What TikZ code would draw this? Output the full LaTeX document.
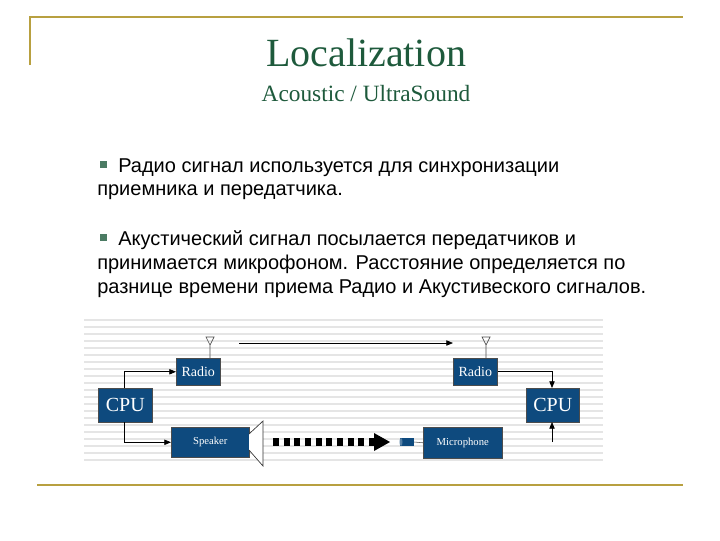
\documentclass[tikz,border=0pt]{standalone}
\usepackage{fontspec}
\setmainfont{Liberation Serif}
\newfontfamily\sans{Liberation Sans}
\definecolor{gold}{HTML}{B8A040}
\definecolor{tgreen}{HTML}{1E5A3C}
\definecolor{bx}{HTML}{0E4A7E}
\usetikzlibrary{arrows.meta}
\begin{document}
\begin{tikzpicture}[x=0.75pt,y=-0.75pt,
  blk/.style={fill=bx,draw=black!70,line width=0.4pt,text=white,inner sep=0pt,anchor=north west},
  con/.style={draw=black,line width=0.6pt},
  arr/.style={con,-{Triangle[length=5pt,width=4pt]}},
  btxt/.style={font=\sans\fontsize{15pt}{18pt}\selectfont,anchor=base west,inner sep=0pt}]
\useasboundingbox (0,0) rectangle (720,540);
\fill[white] (0,0) rectangle (720,540);
\draw[gold,line width=1.5pt] (30,65) -- (30,17) -- (683,17);
\draw[gold,line width=1.5pt] (37,485) -- (683,485);
\node[text=tgreen,font=\fontsize{30pt}{32pt}\selectfont] (t) at (366,53) {Localization};
\node[text=tgreen,font=\fontsize{17.5pt}{20pt}\selectfont] (st) at (366,94) {Acoustic / UltraSound};
\fill[tgreen!80] (100,161) rectangle (107,168);
\node[btxt] (l1) at (118,172) {Радио сигнал используется для синхронизации};
\node[btxt] (l2) at (97,195) {приемника и передатчика.};
\fill[tgreen!80] (100,234) rectangle (107,241);
\node[btxt] (l3) at (118,245) {Акустический сигнал посылается передатчиков и};
\node[btxt] (l4) at (97,269) {принимается микрофоном. Расстояние определяется по};
\node[btxt] (l5) at (97,293) {разнице времени приема Радио и Акустивеского сигналов.};
% stripes
\foreach \i in {0,...,20} {\draw[black!10,line width=1pt] (84,{320+7*\i}) -- (603,{320+7*\i});}
% boxes
\node[blk,minimum width=40.5pt,minimum height=25.5pt] (cpu1) at (98,388) {};
\node[text=white,font=\fontsize{15pt}{15pt}\selectfont] at (cpu1.center) {CPU};
\node[blk,minimum width=33pt,minimum height=20.25pt] (r1) at (176,358) {};
\node[text=white,font=\fontsize{10.5pt}{11pt}\selectfont] at (r1.center) {Radio};
\node[blk,minimum width=58.5pt,minimum height=22.5pt] (sp) at (171,427) {};
\node[text=white,font=\fontsize{8pt}{9pt}\selectfont] at (sp.center) {Speaker};
\node[blk,minimum width=59.25pt,minimum height=23.25pt] (mic) at (423,427) {};
\node[text=white,font=\fontsize{8pt}{9pt}\selectfont] at (mic.center) {Microphone};
\node[blk,minimum width=33pt,minimum height=20.25pt] (r2) at (453,358) {};
\node[text=white,font=\fontsize{10.5pt}{11pt}\selectfont] at (r2.center) {Radio};
\node[blk,minimum width=39.75pt,minimum height=25.5pt] (cpu2) at (526,388) {};
\node[text=white,font=\fontsize{15pt}{15pt}\selectfont] at (cpu2.center) {CPU};
% antennas
\draw[black!70,line width=0.5pt] (210,358) -- (210,345) (206,337) -- (214,337) -- (210,345) -- cycle;
\draw[black!70,line width=0.5pt] (486,358) -- (486,345) (482,337) -- (490,337) -- (486,345) -- cycle;
% horn
\draw[black!80,line width=0.5pt,fill=white] (249,434) -- (263,421) -- (263,466) -- (249,450);
% mic capsule
\fill[bx] (400,438) rectangle (414,446);
\fill[bx!70] (401,442) ellipse (1.5 and 4);
\draw[black!70] (414,442) -- (mic.west);
% connectors
\coordinate (a1) at (239,343); \coordinate (a2) at (453,343);
\draw[arr] (a1) -- (a2);
\draw[arr] (124,388) |- (r1.west);
\draw[arr] (124,422) |- (sp.west);
\draw[arr] (r2.east) -| (552,388);
\coordinate (u0) at (552,442);
\draw[arr] (u0) -- (552,422);
\coordinate (d0) at (273,442); \coordinate (d1) at (375,442); \coordinate (d2) at (390,442);
\draw[black,line width=6pt,dash pattern=on 4.5pt off 3.5pt] (d0) -- (d1);
\fill[black] (374,433) -- (d2) -- (374,451) -- cycle;
\end{tikzpicture}
\end{document}
